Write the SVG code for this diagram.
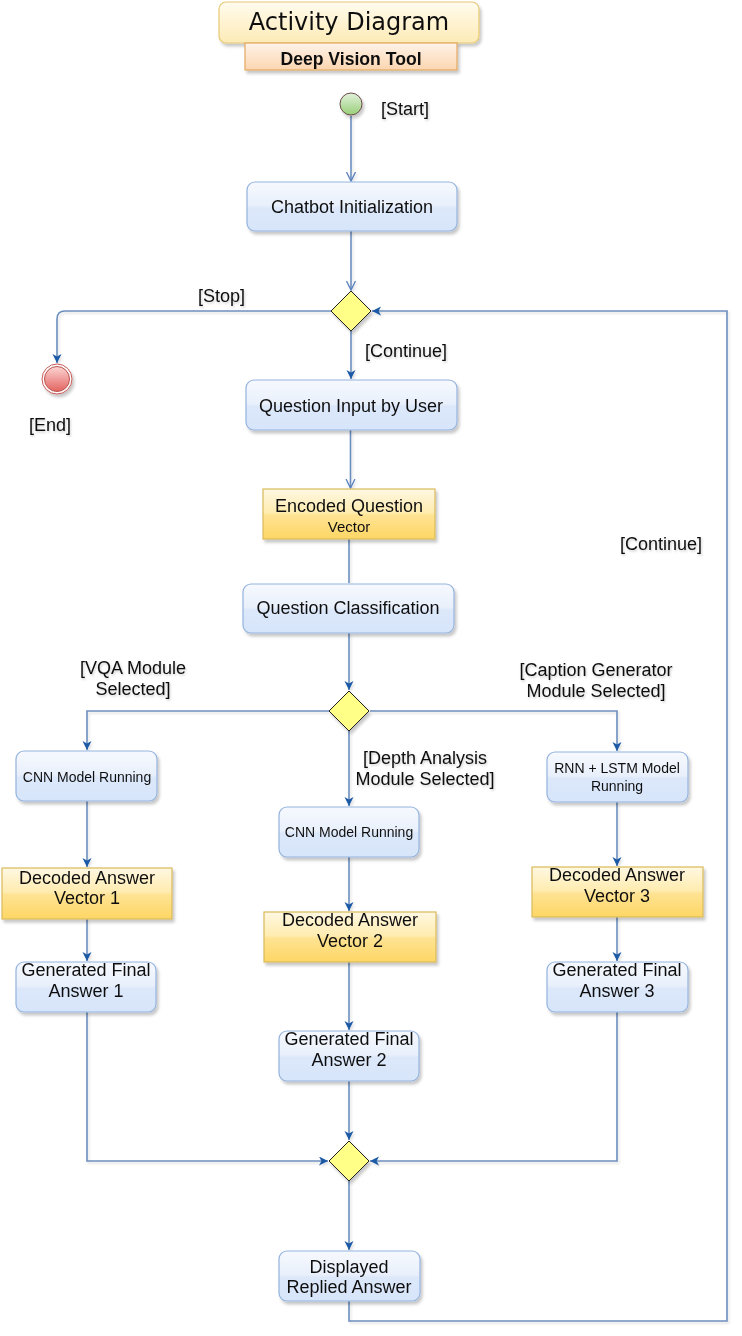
<svg xmlns="http://www.w3.org/2000/svg" width="742" height="1336" viewBox="0 0 742 1336">
<style>
  .t{font-family:"Liberation Sans",Arial,sans-serif;font-size:18px;fill:#111;text-anchor:middle}
  .s{font-size:14px}
  .v{font-size:15px}
  .lbl{font-family:"Liberation Sans",Arial,sans-serif;font-size:18px;fill:#111}
  .blue{fill:url(#blueG);stroke:#94b3de;stroke-width:1.2}
  .yel{fill:url(#yelG);stroke:#d9b95a;stroke-width:1.2}
  .dia{fill:#ffff88;stroke:#222;stroke-width:1}
  .conn{fill:none;stroke:#6c8ebf;stroke-width:1.6}
</style>
<defs>
  <linearGradient id="blueG" x1="0" y1="0" x2="0" y2="1">
    <stop offset="0" stop-color="#f6f9fe"/>
    <stop offset="0.47" stop-color="#e9f0fb"/>
    <stop offset="0.53" stop-color="#dce8fa"/>
    <stop offset="1" stop-color="#d7e5fa"/>
  </linearGradient>
  <linearGradient id="yelG" x1="0" y1="0" x2="0" y2="1">
    <stop offset="0" stop-color="#fff8e2"/>
    <stop offset="0.47" stop-color="#ffecb0"/>
    <stop offset="0.53" stop-color="#ffe393"/>
    <stop offset="1" stop-color="#fdd664"/>
  </linearGradient>
  <linearGradient id="titleG" x1="0" y1="0" x2="0" y2="1">
    <stop offset="0" stop-color="#fffbee"/>
    <stop offset="0.5" stop-color="#fff3d2"/>
    <stop offset="1" stop-color="#fcebb6"/>
  </linearGradient>
  <linearGradient id="subG" x1="0" y1="0" x2="0" y2="1">
    <stop offset="0" stop-color="#fef3ea"/>
    <stop offset="0.5" stop-color="#fde4cc"/>
    <stop offset="1" stop-color="#fbd6b0"/>
  </linearGradient>
  <linearGradient id="greenG" x1="0" y1="0" x2="0" y2="1">
    <stop offset="0" stop-color="#e2f1dc"/>
    <stop offset="1" stop-color="#98cf78"/>
  </linearGradient>
  <linearGradient id="redG" x1="0" y1="0" x2="0" y2="1">
    <stop offset="0" stop-color="#fbd5d3"/>
    <stop offset="1" stop-color="#e36461"/>
  </linearGradient>
  <filter id="sh" x="-10%" y="-10%" width="130%" height="140%">
    <feDropShadow dx="2" dy="3" stdDeviation="1.5" flood-color="#000" flood-opacity="0.22"/>
  </filter>
  <filter id="lsh" x="-5%" y="-5%" width="110%" height="110%">
    <feDropShadow dx="1.5" dy="2" stdDeviation="1" flood-color="#000" flood-opacity="0.12"/>
  </filter>
  <filter id="tsh" x="-5%" y="-20%" width="110%" height="150%">
    <feDropShadow dx="1" dy="1.5" stdDeviation="0.8" flood-color="#000" flood-opacity="0.2"/>
  </filter>
  <marker id="fa" markerWidth="11" markerHeight="11" refX="9" refY="4.5" orient="auto" markerUnits="userSpaceOnUse">
    <path d="M0,0 L9,4.5 L0,9 L2.4,4.5 Z" fill="#1c5aa6"/>
  </marker>
  <marker id="oa" markerWidth="12" markerHeight="12" refX="9" refY="5" orient="auto" markerUnits="userSpaceOnUse">
    <path d="M0,0.5 L9,5 L0,9.5" fill="none" stroke="#5a82bd" stroke-width="1.3"/>
  </marker>
</defs>
<rect width="742" height="1336" fill="#fff"/>

<g id="title" filter="url(#sh)">
  <rect x="219" y="2" width="260" height="41" rx="7" fill="url(#titleG)" stroke="#e6c875" stroke-width="1.2"/>
  <text x="349" y="30" font-family="'DejaVu Sans',Verdana,sans-serif" font-size="24" fill="#111" text-anchor="middle">Activity Diagram</text>
</g>
<g id="subtitle" filter="url(#sh)">
  <rect x="245" y="43" width="212" height="27" fill="url(#subG)" stroke="#e3a860" stroke-width="1.2"/>
  <text x="351" y="65" font-family="'Liberation Sans',Arial,sans-serif" font-size="17.6" font-weight="bold" fill="#111" text-anchor="middle">Deep Vision Tool</text>
</g>

<g id="connectors" filter="url(#lsh)">
  <path class="conn" d="M351,116 V181" marker-end="url(#oa)"/>
  <path class="conn" d="M351,231 V290" marker-end="url(#oa)"/>
  <path class="conn" d="M331,311 H65 Q57,311 57,319 V363" marker-end="url(#fa)"/>
  <path class="conn" d="M351,331 V379" marker-end="url(#fa)"/>
  <path class="conn" d="M350.5,430 V488" marker-end="url(#oa)"/>
  <path class="conn" d="M349,539 V583"/>
  <path class="conn" d="M349,633 V690" marker-end="url(#fa)"/>
  <path class="conn" d="M329,711 H87 V750" marker-end="url(#fa)"/>
  <path class="conn" d="M370,711 H617 V751" marker-end="url(#fa)"/>
  <path class="conn" d="M349,731 V806" marker-end="url(#fa)"/>
  <path class="conn" d="M87,801 V867" marker-end="url(#fa)"/>
  <path class="conn" d="M87,919 V961" marker-end="url(#fa)"/>
  <path class="conn" d="M87,1012 V1161 H328" marker-end="url(#fa)"/>
  <path class="conn" d="M349,857 V911" marker-end="url(#fa)"/>
  <path class="conn" d="M349,962 V1030" marker-end="url(#fa)"/>
  <path class="conn" d="M349,1081 V1140" marker-end="url(#fa)"/>
  <path class="conn" d="M617,802 V866" marker-end="url(#fa)"/>
  <path class="conn" d="M617,917 V961" marker-end="url(#fa)"/>
  <path class="conn" d="M617,1012 V1161 H370" marker-end="url(#fa)"/>
  <path class="conn" d="M349,1181 V1250" marker-end="url(#fa)"/>
  <path class="conn" d="M349,1301 V1321 H727 V311 H372" marker-end="url(#fa)"/>
</g>

<g id="labels" filter="url(#tsh)">
  <text class="lbl" x="381" y="115">[Start]</text>
  <text class="lbl" x="198" y="302">[Stop]</text>
  <text class="lbl" x="29" y="431">[End]</text>
  <text class="lbl" x="365" y="357">[Continue]</text>
  <text class="lbl" x="620" y="550">[Continue]</text>
  <text class="t" x="133" y="674">[VQA Module</text>
  <text class="t" x="133" y="695">Selected]</text>
  <text class="t" x="425" y="764">[Depth Analysis</text>
  <text class="t" x="425" y="785">Module Selected]</text>
  <text class="t" x="596" y="676">[Caption Generator</text>
  <text class="t" x="596" y="697">Module Selected]</text>
</g>

<g id="start" filter="url(#sh)">
  <circle cx="351" cy="104" r="11" fill="url(#greenG)" stroke="#6b4a4a" stroke-width="1"/>
</g>
<g id="end" filter="url(#sh)">
  <circle cx="57" cy="379" r="15" fill="#fff" stroke="#c85a56" stroke-width="1"/>
  <circle cx="57" cy="379" r="12.5" fill="url(#redG)" stroke="#b85450" stroke-width="1"/>
</g>

<g id="chatbot" filter="url(#sh)">
  <rect class="blue" x="247" y="182" width="210" height="49" rx="8"/>
  <text class="t" x="352" y="213">Chatbot Initialization</text>
</g>
<g id="decision1" filter="url(#sh)">
  <polygon class="dia" points="351,291 371,311 351,331 331,311"/>
</g>
<g id="questionInput" filter="url(#sh)">
  <rect class="blue" x="246" y="380" width="211" height="50" rx="8"/>
  <text class="t" x="351" y="412">Question Input by User</text>
</g>
<g id="encoded" filter="url(#sh)">
  <rect class="yel" x="263" y="489" width="172" height="50"/>
  <text class="t" x="349" y="512">Encoded Question</text>
  <text class="t v" x="349" y="532">Vector</text>
</g>
<g id="classification" filter="url(#sh)">
  <rect class="blue" x="243" y="584" width="211" height="49" rx="8"/>
  <text class="t" x="348" y="614">Question Classification</text>
</g>
<g id="decision2" filter="url(#sh)">
  <polygon class="dia" points="349,691 369,711 349,731 329,711"/>
</g>

<g id="cnn1" filter="url(#sh)">
  <rect class="blue" x="16" y="751" width="141" height="50" rx="8"/>
  <text class="t s" x="87" y="782">CNN Model Running</text>
</g>
<g id="cnn2" filter="url(#sh)">
  <rect class="blue" x="279" y="807" width="140" height="50" rx="8"/>
  <text class="t s" x="349" y="837">CNN Model Running</text>
</g>
<g id="rnn" filter="url(#sh)">
  <rect class="blue" x="547" y="752" width="141" height="50" rx="8"/>
  <text class="t s" x="617" y="773">RNN + LSTM Model</text>
  <text class="t s" x="617" y="791">Running</text>
</g>

<g id="decoded1" filter="url(#sh)">
  <rect class="yel" x="2" y="868" width="170" height="51"/>
  <text class="t" x="87" y="884">Decoded Answer</text>
  <text class="t" x="87" y="904">Vector 1</text>
</g>
<g id="decoded2" filter="url(#sh)">
  <rect class="yel" x="264" y="912" width="172" height="50"/>
  <text class="t" x="350" y="926">Decoded Answer</text>
  <text class="t" x="350" y="947">Vector 2</text>
</g>
<g id="decoded3" filter="url(#sh)">
  <rect class="yel" x="532" y="867" width="171" height="50"/>
  <text class="t" x="617" y="881">Decoded Answer</text>
  <text class="t" x="617" y="902">Vector 3</text>
</g>

<g id="final1" filter="url(#sh)">
  <rect class="blue" x="16" y="962" width="140" height="50" rx="8"/>
  <text class="t" x="86" y="976">Generated Final</text>
  <text class="t" x="86" y="997">Answer 1</text>
</g>
<g id="final2" filter="url(#sh)">
  <rect class="blue" x="279" y="1031" width="140" height="50" rx="8"/>
  <text class="t" x="349" y="1045">Generated Final</text>
  <text class="t" x="349" y="1066">Answer 2</text>
</g>
<g id="final3" filter="url(#sh)">
  <rect class="blue" x="547" y="962" width="141" height="50" rx="8"/>
  <text class="t" x="617" y="976">Generated Final</text>
  <text class="t" x="617" y="997">Answer 3</text>
</g>

<g id="decision3" filter="url(#sh)">
  <polygon class="dia" points="349,1141 369,1161 349,1181 329,1161"/>
</g>
<g id="displayed" filter="url(#sh)">
  <rect class="blue" x="279" y="1251" width="141" height="50" rx="8"/>
  <text class="t" x="349" y="1273">Displayed</text>
  <text class="t" x="349" y="1293">Replied Answer</text>
</g>
</svg>
